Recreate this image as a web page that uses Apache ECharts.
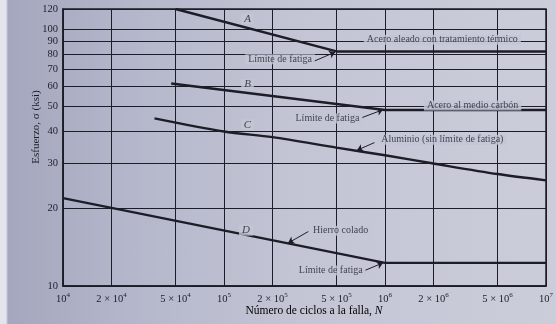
<!DOCTYPE html>
<html>
<head>
<meta charset="utf-8">
<script src="https://cdn.jsdelivr.net/npm/echarts@6/dist/echarts.min.js"></script>
<style>
html,body{margin:0;padding:0;}
body{background:linear-gradient(to right,#e4e4ec 0px,#e4e4ec 6px,#a4a7bd 8px,#b3b6ca 120px,#c3c5d5 300px,#cbcdda 556px);width:556px;height:324px;}
#c{width:556px;height:324px;}
</style>
</head>
<body>
<div id="c"></div>
<script>
// ---- data ----
const xTicks = [1e4, 2e4, 5e4, 1e5, 2e5, 5e5, 1e6, 2e6, 5e6, 1e7];
const xTickLabels = ['10^4', '2 × 10^4', '5 × 10^4', '10^5', '2 × 10^5', '5 × 10^5', '10^6', '2 × 10^6', '5 × 10^6', '10^7'];
const yTicks = [10, 20, 30, 40, 50, 60, 70, 80, 90, 100, 120];
const yTickLabels = ['10', '20', '30', '40', '50', '60', '70', '80', '90', '100', '120'];

const curveA_N = [5e4, 5e5, 1e7];
const curveA_S = [120, 82, 82];
const curveB_N = [4.7e4, 1e6, 1e7];
const curveB_S = [61.5, 48.5, 48.5];
const curveC_N = [3.7e4, 1e5, 2e5, 5e5, 1e6, 2e6, 5e6, 1e7];
const curveC_S = [45, 40, 38.0, 34.6, 32.3, 30, 27.3, 25.8];
const curveD_N = [1e4, 1e6, 1e7];
const curveD_S = [22, 12.3, 12.3];

const letterText = ['A', 'B', 'C', 'D'];
const letterN = [1.4e5, 1.4e5, 1.4e5, 1.37e5];
const letterS = [110, 61, 42.5, 16.5];

const noteText = ['Límite de fatiga', 'Acero aleado con tratamiento térmico', 'Límite de fatiga', 'Acero al medio carbón', 'Aluminio (sin límite de fatiga)', 'Hierro colado', 'Límite de fatiga'];
const noteN = [2.23e5, 2.27e6, 4.39e5, 3.5e6, 2.27e6, 5.3e5, 4.6e5];
const noteS = [76.5, 91, 44.9, 50.5, 37.1, 16.4, 11.5];

const arrowFromN = [3.6e5, 7.2e5, 8.6e5, 3.34e5, 7.5e5];
const arrowFromS = [75, 45.3, 36.2, 16.3, 11.5];
const arrowToN = [4.9e5, 9.7e5, 6.7e5, 2.5e5, 9.7e5];
const arrowToS = [81.5, 48.6, 33.8, 14.7, 12.3];

// ---- styles ----
const LABEL_BG = '#c3c5d5';
const INK = '#1d1d28';
const SERIF = '"Liberation Serif", "DejaVu Serif", serif';
const arrowCurve = [0.35, 0.35, 0.35, -0.35, 0.35];

function zip(a, b) { return a.map((v, i) => [v, b[i]]); }

function xLabelRich(v) {
  const i = xTicks.findIndex(t => Math.abs(t - v) / t < 1e-6);
  if (i < 0) return '';
  const s = xTickLabels[i];
  const m = s.match(/^(.*)10\^(\d)$/);
  return '{b|' + m[1] + '10}{s|' + m[2] + '}';
}
function yLabel(v) {
  const i = yTicks.findIndex(t => Math.abs(t - v) / t < 1e-6);
  return i < 0 ? '' : yTickLabels[i];
}

const lineSeries = (N, S, smooth) => ({
  type: 'line', data: zip(N, S), symbol: 'none', smooth: smooth || false,
  lineStyle: { color: INK, width: 2.4 }, z: 3, clip: true
});

const chart = echarts.init(document.getElementById('c'), null, { renderer: 'canvas' });
chart.setOption({
  animation: false,
  backgroundColor: 'transparent',
  grid: { left: 63, right: 10, top: 9, bottom: 38, show: true, borderColor: INK, borderWidth: 1.5, backgroundColor: 'transparent' },
  xAxis: {
    type: 'log', logBase: 10, min: 1e4, max: 1e7,
    axisLine: { show: true, lineStyle: { color: INK, width: 1.5 } },
    axisTick: { show: false, customValues: xTicks },
    splitLine: { show: true, lineStyle: { color: INK, width: 1 } },
    minorTick: { show: false }, minorSplitLine: { show: false },
    axisLabel: {
      customValues: xTicks, formatter: xLabelRich, margin: 6,
      rich: {
        b: { fontFamily: SERIF, fontSize: 10.5, color: INK },
        s: { fontFamily: SERIF, fontSize: 7, color: INK, padding: [0, 0, 7, 0] }
      }
    }
  },
  yAxis: {
    type: 'log', logBase: 10, min: 10, max: 120,
    axisLine: { show: true, lineStyle: { color: INK, width: 1.5 } },
    axisTick: { show: false, customValues: yTicks },
    splitLine: { show: true, lineStyle: { color: INK, width: 1 } },
    minorTick: { show: false }, minorSplitLine: { show: false },
    axisLabel: { customValues: yTicks, formatter: yLabel, margin: 5, fontFamily: SERIF, fontSize: 10.5, color: INK }
  },
  graphic: [
    { type: 'text', x: 36, y: 127, rotation: Math.PI / 2,
      style: { text: 'Esfuerzo, σ (ksi)', fontFamily: SERIF, fontSize: 11, fill: INK, textAlign: 'center', textVerticalAlign: 'middle' } },
    { type: 'text', x: 314, y: 311,
      style: { text: '{a|Número de ciclos a la falla, }{i|N}', textAlign: 'center', textVerticalAlign: 'middle',
        rich: { a: { fontFamily: SERIF, fontSize: 11.5, color: INK }, i: { fontFamily: SERIF, fontSize: 11.5, fontStyle: 'italic', color: INK } } } }
  ],
  series: [
    lineSeries(curveA_N, curveA_S),
    lineSeries(curveB_N, curveB_S),
    lineSeries(curveC_N, curveC_S, 0.3),
    lineSeries(curveD_N, curveD_S),
    {
      type: 'scatter', symbolSize: 0, z: 5,
      data: letterText.map((t, i) => ({ name: t, value: [letterN[i], letterS[i]] })),
      label: { show: true, position: 'inside', formatter: p => p.name, fontFamily: SERIF, fontSize: 11, fontStyle: 'italic', color: INK, backgroundColor: LABEL_BG, padding: [0, 3] }
    },
    {
      type: 'scatter', symbolSize: 0, z: 5,
      data: noteText.map((t, i) => ({ name: t, value: [noteN[i], noteS[i]] })),
      label: { show: true, position: 'inside', formatter: p => p.name, fontFamily: SERIF, fontSize: 10, color: INK, backgroundColor: LABEL_BG, padding: [0, 3] },
      markLine: {
        silent: true, symbol: ['none', 'arrow'], symbolSize: 6, label: { show: false },
        lineStyle: { color: INK, width: 1, type: 'solid' },
        data: arrowFromN.map((n, i) => [
          { coord: [n, arrowFromS[i]], lineStyle: { curveness: arrowCurve[i], color: INK, width: 1, type: 'solid' } },
          { coord: [arrowToN[i], arrowToS[i]] }
        ])
      }
    }
  ]
});
</script>
</body>
</html>
